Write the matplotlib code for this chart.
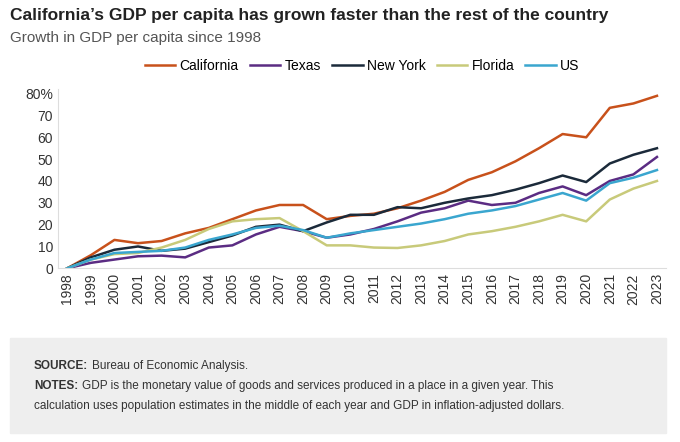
import matplotlib
matplotlib.use("Agg")
import matplotlib.pyplot as plt
from matplotlib.patches import Rectangle

years = list(range(1998, 2024))
california = [0, 6, 13, 11.5, 12.5, 16, 18.5, 22.5, 26.5, 29, 29, 22.5, 24, 25, 27.5, 31, 35, 40.5, 44, 49, 55, 61.5, 60, 73.5, 75.5, 79]
texas = [0, 2.5, 4, 5.5, 5.8, 5, 9.5, 10.5, 15.5, 19, 17, 14, 15.5, 18, 21.5, 25.5, 27.5, 31, 29, 30, 34.5, 37.5, 33.5, 40, 43, 51]
new_york = [0, 5, 8.5, 10, 8, 9, 12, 15, 19, 20, 17, 21, 24.5, 24.5, 28, 27.5, 30, 32, 33.5, 36, 39, 42.5, 39.5, 48, 52, 55]
florida = [0, 4, 6.5, 7, 9.5, 13, 18, 21.5, 22.5, 23, 17, 10.5, 10.5, 9.5, 9.3, 10.5, 12.5, 15.5, 17, 19, 21.5, 24.5, 21.5, 31.5, 36.5, 40]
us = [0, 4, 7, 7.5, 8, 9.5, 13, 15.5, 18.5, 19.5, 17.5, 14, 16, 17.5, 19, 20.5, 22.5, 25, 26.5, 28.5, 31.5, 34.5, 31, 39, 41.5, 45]

series = [("California", california, "#C8511B"), ("Texas", texas, "#5B2C83"),
          ("New York", new_york, "#1B2A3A"), ("Florida", florida, "#C8CA7A"),
          ("US", us, "#3AA6CF")]

plt.rcParams["font.family"] = ["Liberation Sans", "DejaVu Sans"]
fig = plt.figure(figsize=(6.8, 4.42), dpi=100)
fig.text(0.015, 0.955, "California’s GDP per capita has grown faster than the rest of the country",
         fontsize=12.5, weight="bold", color="#222222")
fig.text(0.015, 0.905, "Growth in GDP per capita since 1998", fontsize=11, color="#555555")

ax = fig.add_axes([0.085, 0.393, 0.895, 0.405])
for name, vals, c in series:
    ax.plot(years, vals, color=c, lw=1.8, label=name)
ax.set_xlim(1997.6, 2023.4)
ax.set_ylim(0, 82)
ax.set_yticks(range(0, 81, 10))
ax.set_yticklabels([str(v) if v < 80 else "80%" for v in range(0, 81, 10)])
ax.set_xticks(years)
ax.set_xticklabels([str(y) for y in years], rotation=90)
ax.tick_params(labelsize=10, colors="#333333", length=0)
for s in ["top", "right"]:
    ax.spines[s].set_visible(False)
ax.spines["left"].set_color("#dddddd")
ax.spines["bottom"].set_color("#dddddd")
ax.legend(loc="lower center", bbox_to_anchor=(0.5, 1.02), ncol=5, frameon=False,
          fontsize=10, handlelength=2.2, columnspacing=0.8, handletextpad=0.3)

fig.patches.append(Rectangle((0.015, 0.02), 0.965, 0.215, transform=fig.transFigure,
                             color="#EEEEEE", zorder=0))

renderer = fig.canvas.get_renderer()


def labelled(y, label, rest):
    t = fig.text(0.05, y, label, fontsize=8.5, weight="bold", color="#333333")
    bb = t.get_window_extent(renderer).transformed(fig.transFigure.inverted())
    fig.text(bb.x1 + 0.006, y, rest, fontsize=8.5, color="#333333")


labelled(0.165, "SOURCE:", "Bureau of Economic Analysis.")
labelled(0.12, "NOTES:", "GDP is the monetary value of goods and services produced in a place in a given year. This")
fig.text(0.05, 0.075, "calculation uses population estimates in the middle of each year and GDP in inflation-adjusted dollars.",
         fontsize=8.5, color="#333333")
fig.savefig("out.png", dpi=100)
